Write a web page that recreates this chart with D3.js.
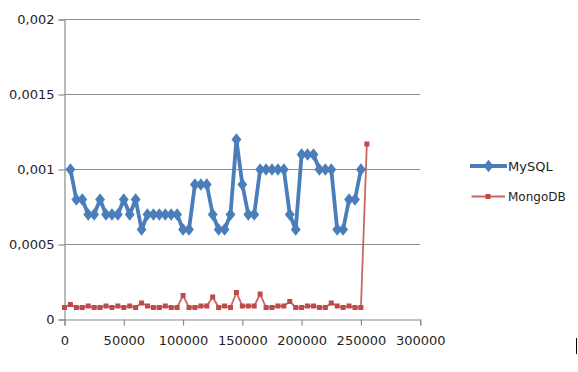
<!DOCTYPE html>
<html>
<head>
<meta charset="utf-8">
<script src="https://cdn.jsdelivr.net/npm/d3@7"></script>
<style>
  html, body { margin: 0; padding: 0; background: #fff; }
  svg { display: block; }
  text { font-family: "DejaVu Sans", Verdana, sans-serif; fill: #1f1f1f; }
</style>
</head>
<body>
<svg id="chart" width="578" height="372"></svg>
<script>
// ---- data ----
const mysqlX = [5000,10000,15000,20000,25000,30000,35000,40000,45000,50000,
  55000,60000,65000,70000,75000,80000,85000,90000,95000,100000,
  105000,110000,115000,120000,125000,130000,135000,140000,145000,150000,
  155000,160000,165000,170000,175000,180000,185000,190000,195000,200000,
  205000,210000,215000,220000,225000,230000,235000,240000,245000,250000];
const mysqlY = [0.001,0.0008,0.0008,0.0007,0.0007,0.0008,0.0007,0.0007,0.0007,0.0008,
  0.0007,0.0008,0.0006,0.0007,0.0007,0.0007,0.0007,0.0007,0.0007,0.0006,
  0.0006,0.0009,0.0009,0.0009,0.0007,0.0006,0.0006,0.0007,0.0012,0.0009,
  0.0007,0.0007,0.001,0.001,0.001,0.001,0.001,0.0007,0.0006,0.0011,
  0.0011,0.0011,0.001,0.001,0.001,0.0006,0.0006,0.0008,0.0008,0.001];
const mongoX = [0,5000,10000,15000,20000,25000,30000,35000,40000,45000,
  50000,55000,60000,65000,70000,75000,80000,85000,90000,95000,
  100000,105000,110000,115000,120000,125000,130000,135000,140000,145000,
  150000,155000,160000,165000,170000,175000,180000,185000,190000,195000,
  200000,205000,210000,215000,220000,225000,230000,235000,240000,245000,
  250000,255000];
const mongoY = [0.00008,0.0001,0.00008,0.00008,0.00009,0.00008,0.00008,0.00009,0.00008,0.00009,
  0.00008,0.00009,0.00008,0.00011,0.00009,0.00008,0.00008,0.00009,0.00008,0.00008,
  0.00016,0.00008,0.00008,0.00009,0.00009,0.00015,0.00008,0.00009,0.00008,0.00018,
  0.00009,0.00009,0.00009,0.00017,0.00008,0.00008,0.00009,0.00009,0.00012,0.00008,
  0.00008,0.00009,0.00009,0.00008,0.00008,0.00011,0.00009,0.00008,0.00009,0.00008,
  0.00008,0.00117];
const xTicks = [0,50000,100000,150000,200000,250000,300000];
const yTicks = [0,0.0005,0.001,0.0015,0.002];
const yTickLabels = ["0","0,0005","0,001","0,0015","0,002"];
const seriesNames = ["MySQL","MongoDB"];

// ---- layout ----
const svg = d3.select("#chart");
const pLeft = 64.5, pRight = 420.2, pTop = 19.5, pBottom = 319.5;
const x = d3.scaleLinear().domain([0,300000]).range([pLeft,pRight]);
const y = d3.scaleLinear().domain([0,0.002]).range([pBottom,pTop]);
const grid = "#8c8c8c";

// gridlines
svg.append("g").selectAll("line").data(yTicks.filter(d => d > 0)).join("line")
  .attr("x1", pLeft).attr("x2", pRight)
  .attr("y1", d => y(d)).attr("y2", d => y(d))
  .attr("stroke", grid).attr("stroke-width", 1.2);

// y axis
const yAxis = svg.append("g").attr("transform", `translate(${pLeft},0)`)
  .call(d3.axisLeft(y).tickValues(yTicks).tickSize(6).tickPadding(4)
    .tickFormat((d,i) => yTickLabels[i]));
yAxis.select(".domain").attr("stroke", grid).attr("stroke-width", 1.2);
yAxis.selectAll(".tick line").attr("stroke", grid).attr("stroke-width", 1.2);
yAxis.selectAll(".tick text").style("font-size", "13px").attr("fill", "#1f1f1f")
  .style("font-family", "'DejaVu Sans', Verdana, sans-serif");

// x axis
const xAxis = svg.append("g").attr("transform", `translate(0,${pBottom})`)
  .call(d3.axisBottom(x).tickValues(xTicks).tickSize(6).tickPadding(10)
    .tickFormat(d3.format("d")));
xAxis.select(".domain").attr("stroke", grid).attr("stroke-width", 1.2);
xAxis.selectAll(".tick line").attr("stroke", grid).attr("stroke-width", 1.2);
xAxis.selectAll(".tick text").style("font-size", "13px").attr("fill", "#1f1f1f")
  .style("font-family", "'DejaVu Sans', Verdana, sans-serif");

// series
const blue = "#4a7ebb", red = "#be4b48";
const mysql = mysqlX.map((d,i) => [d, mysqlY[i]]);
const mongo = mongoX.map((d,i) => [d, mongoY[i]]);
const line = d3.line().x(d => x(d[0])).y(d => y(d[1]));

svg.append("path").datum(mysql).attr("d", line)
  .attr("fill", "none").attr("stroke", blue).attr("stroke-width", 3.8)
  .attr("stroke-linejoin", "round");
const diamond = d3.symbol().type(d3.symbolDiamond).size(46);
svg.append("g").selectAll("path").data(mysql).join("path")
  .attr("d", diamond)
  .attr("transform", d => `translate(${x(d[0])},${y(d[1])}) scale(1.35,1)`)
  .attr("fill", blue);

svg.append("path").datum(mongo).attr("d", line)
  .attr("fill", "none").attr("stroke", red).attr("stroke-width", 1.8)
  .attr("stroke-opacity", 0.85);
svg.append("g").selectAll("rect").data(mongo).join("rect")
  .attr("x", d => x(d[0]) - 2.5).attr("y", d => y(d[1]) - 2.5)
  .attr("width", 5).attr("height", 5).attr("fill", red);

// legend
const lg = svg.append("g");
lg.append("line").attr("x1", 470).attr("x2", 507).attr("y1", 166).attr("y2", 166)
  .attr("stroke", blue).attr("stroke-width", 3.8);
lg.append("path").attr("d", diamond)
  .attr("transform", "translate(488.5,166) scale(1.35,1)").attr("fill", blue);
lg.append("text").attr("x", 508).attr("y", 166).attr("dy", "0.35em")
  .style("font-size", "13px").text(seriesNames[0]);
lg.append("line").attr("x1", 471.5).attr("x2", 505).attr("y1", 196.5).attr("y2", 196.5)
  .attr("stroke", red).attr("stroke-width", 1.8).attr("stroke-opacity", 0.85);
lg.append("rect").attr("x", 485.5).attr("y", 194).attr("width", 5).attr("height", 5)
  .attr("fill", red);
lg.append("text").attr("x", 508).attr("y", 197).attr("dy", "0.35em")
  .style("font-size", "12px").text(seriesNames[1]);

// cursor mark at bottom right
svg.append("line").attr("x1", 576.5).attr("x2", 576.5).attr("y1", 338).attr("y2", 354)
  .attr("stroke", "#000").attr("stroke-width", 1);
</script>
</body>
</html>
